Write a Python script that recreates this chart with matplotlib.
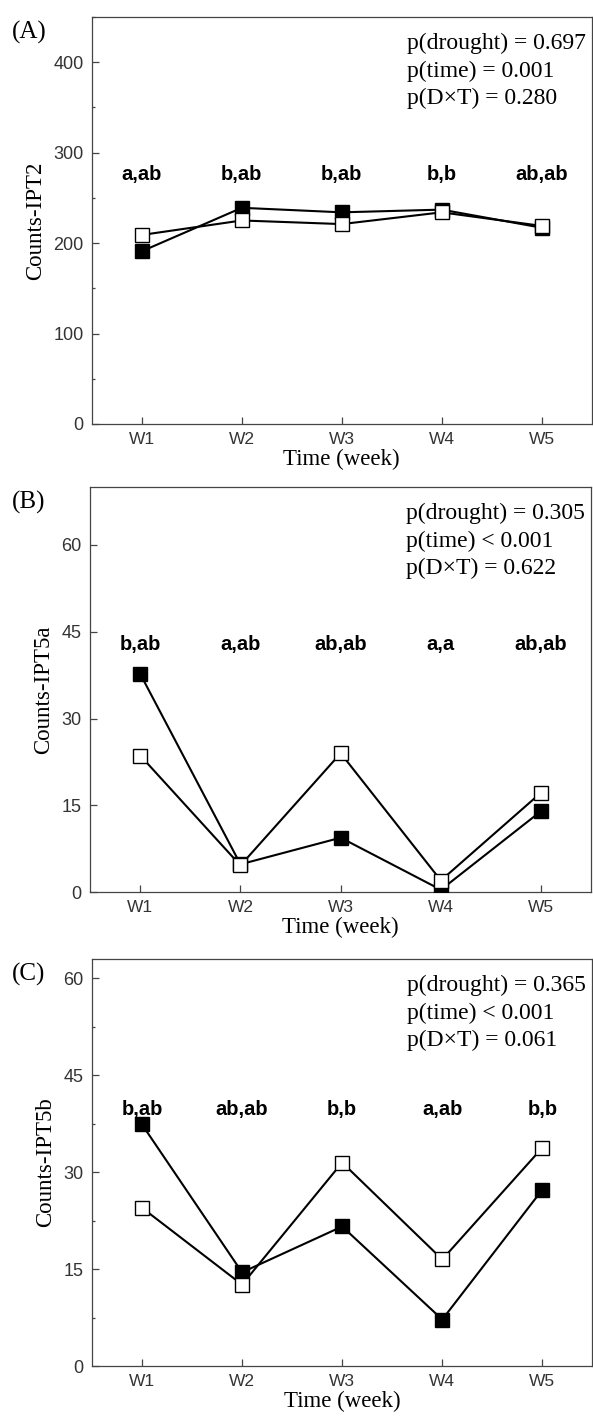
import matplotlib.pyplot as plt
import numpy as np

weeks = ['W1', 'W2', 'W3', 'W4', 'W5']

# panel A - IPT2
ipt2_black = [191, 239, 234, 237, 217]
ipt2_white = [209, 225, 221, 234, 219]
ipt2_letters = ['a,ab', 'b,ab', 'b,ab', 'b,b', 'ab,ab']
ipt2_p = ['p(drought) = 0.697', 'p(time) = 0.001', 'p(D\u00d7T) = 0.280']

# panel B - IPT5a
ipt5a_black = [37.7, 4.8, 9.4, 0.4, 14.0]
ipt5a_white = [23.6, 4.6, 24.0, 2.0, 17.2]
ipt5a_letters = ['b,ab', 'a,ab', 'ab,ab', 'a,a', 'ab,ab']
ipt5a_p = ['p(drought) = 0.305', 'p(time) < 0.001', 'p(D\u00d7T) = 0.622']

# panel C - IPT5b
ipt5b_black = [37.4, 14.5, 21.6, 7.2, 27.3]
ipt5b_white = [24.5, 12.6, 31.5, 16.5, 33.8]
ipt5b_letters = ['b,ab', 'ab,ab', 'b,b', 'a,ab', 'b,b']
ipt5b_p = ['p(drought) = 0.365', 'p(time) < 0.001', 'p(D\u00d7T) = 0.061']

serif = 'Liberation Serif'
sans = 'Liberation Sans'

fig = plt.figure(figsize=(5.93, 14.16), dpi=100)

panels = [
    # rect, label, ylabel, ylim, major, minor, black, white, letters, letter_y, p
    ([0.155, 0.7006, 0.8425, 0.2874], '(A)', 'Counts-IPT2', 450, 100, 50,
     ipt2_black, ipt2_white, ipt2_letters, 276, ipt2_p),
    ([0.152, 0.370, 0.8450, 0.2860], '(B)', 'Counts-IPT5a', 70, 15, None,
     ipt5a_black, ipt5a_white, ipt5a_letters, 42.8, ipt5a_p),
    ([0.155, 0.0353, 0.8440, 0.2874], '(C)', 'Counts-IPT5b', 63, 15, 7.5,
     ipt5b_black, ipt5b_white, ipt5b_letters, 39.7, ipt5b_p),
]

x = np.arange(1, 6)
for rect, lab, ylab, ytop, major, minor, blk, wht, letters, ly, ptxt in panels:
    ax = fig.add_axes(rect)
    ax.plot(x, blk, color='black', lw=1.5, marker='s', ms=9.5,
            mfc='black', mec='black', mew=1, zorder=3)
    ax.plot(x, wht, color='black', lw=1.5, marker='s', ms=9.5,
            mfc='white', mec='black', mew=1, zorder=4)
    ax.set_xlim(0.5, 5.5)
    ax.set_ylim(0, ytop)
    ax.set_xticks(x)
    ax.set_xticklabels(weeks)
    ax.set_yticks(np.arange(0, ytop + 0.01, major))
    if minor:
        ax.set_yticks(np.arange(0, ytop + 0.01, minor), minor=True)
    for s in ax.spines.values():
        s.set_color('#444444')
        s.set_linewidth(0.9)
    ax.tick_params(direction='in', length=5, width=0.9, color='#444444',
                   top=False, right=False, labelcolor='#333333')
    ax.tick_params(which='minor', direction='in', length=2.5, width=0.9,
                   color='#444444', top=False, right=False)
    ax.tick_params(axis='y', pad=6, labelsize=13)
    ax.tick_params(axis='x', pad=6, labelsize=12.5)
    for t in ax.get_xticklabels() + ax.get_yticklabels():
        t.set_family(sans)
    ax.set_xlabel('Time (week)', family=serif, fontsize=16.5, labelpad=1)
    ax.set_ylabel(ylab, family=serif, fontsize=16.5, labelpad=5)
    for xi, t in zip(x, letters):
        ax.text(xi, ly, t, ha='center', va='center',
                family=sans, fontweight='bold', fontsize=14.5)
    for i, t in enumerate(ptxt):
        ax.text(0.63, 0.935 - i * 0.068, t, transform=ax.transAxes,
                ha='left', va='center', family=serif, fontsize=17)
    top_px = rect[1] + rect[3]
    fig.text(0.02, top_px - 0.0107, lab, ha='left', va='center',
             family=serif, fontsize=18)

fig.savefig('out.png', dpi=100)
